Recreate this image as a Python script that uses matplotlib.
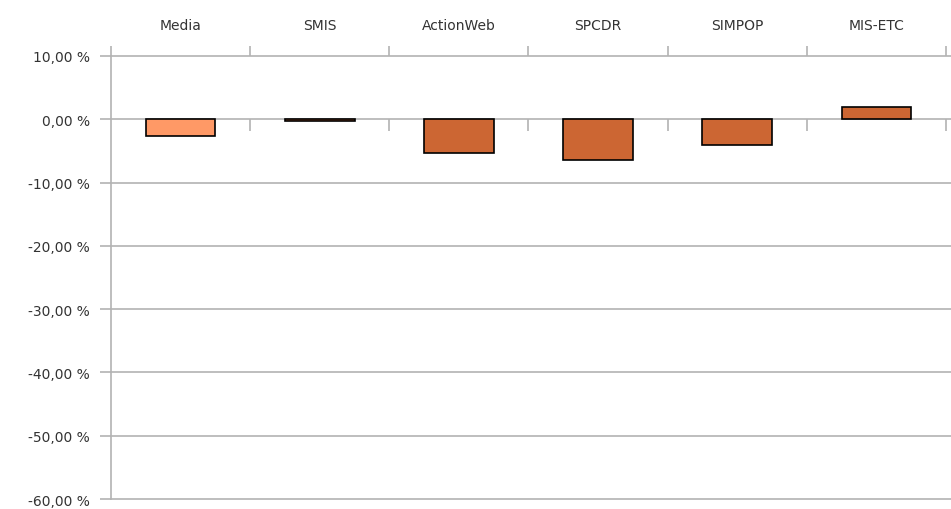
import matplotlib
matplotlib.use("Agg")
import matplotlib.pyplot as plt
import numpy as np

categories = ["Media", "SMIS", "ActionWeb", "SPCDR", "SIMPOP", "MIS-ETC"]
values = [-2.6, -0.25, -5.4, -6.4, -4.1, 1.9]
bar_colors = ["#FF9966", "#CC6633", "#CC6633", "#CC6633", "#CC6633", "#CC6633"]
yticks = [10, 0, -10, -20, -30, -40, -50, -60]
ytick_labels = ["10,00 %", "0,00 %", "-10,00 %", "-20,00 %", "-30,00 %", "-40,00 %", "-50,00 %", "-60,00 %"]

plt.rcParams['font.family'] = ['DejaVu Sans']
fig = plt.figure(figsize=(9.51, 5.10), dpi=100)
ax = fig.add_axes([111/951, 1-500/510, (951-111)/951, (500-57)/510])

x = np.arange(len(categories))
ax.bar(x, values, width=0.5, color=bar_colors, edgecolor="black", linewidth=1.2, zorder=3)

ax.set_xlim(-0.5, len(categories) - 0.5 + 5/139)
ax.set_ylim(-60, 10)

grid_c = "#b3b3b3"
ax.set_yticks(yticks)
ax.set_yticklabels(ytick_labels, fontsize=10, color="#333333")
for y in yticks:
    ax.axhline(y, color=grid_c, linewidth=1.2, zorder=1, clip_on=False)

ax.tick_params(axis='y', direction='out', length=8, width=1.2, color=grid_c, pad=7)

ax.xaxis.tick_top()
ax.set_xticks(x)
ax.set_xticklabels(categories, fontsize=10, color="#333333")
bounds = np.arange(len(categories) + 1) - 0.5
ax.set_xticks(bounds, minor=True)
ax.tick_params(axis='x', which='major', length=0, pad=17)
ax.tick_params(axis='x', which='minor', direction='out', length=7.5, width=1.2, color=grid_c)
ax.vlines(bounds[1:], -1.9, 0, color=grid_c, linewidth=1.2, zorder=2)

for s in ["right", "bottom", "top"]:
    ax.spines[s].set_visible(False)
ax.spines["left"].set_color(grid_c)
ax.spines["left"].set_linewidth(1.2)

fig.savefig("out.png", dpi=100)
